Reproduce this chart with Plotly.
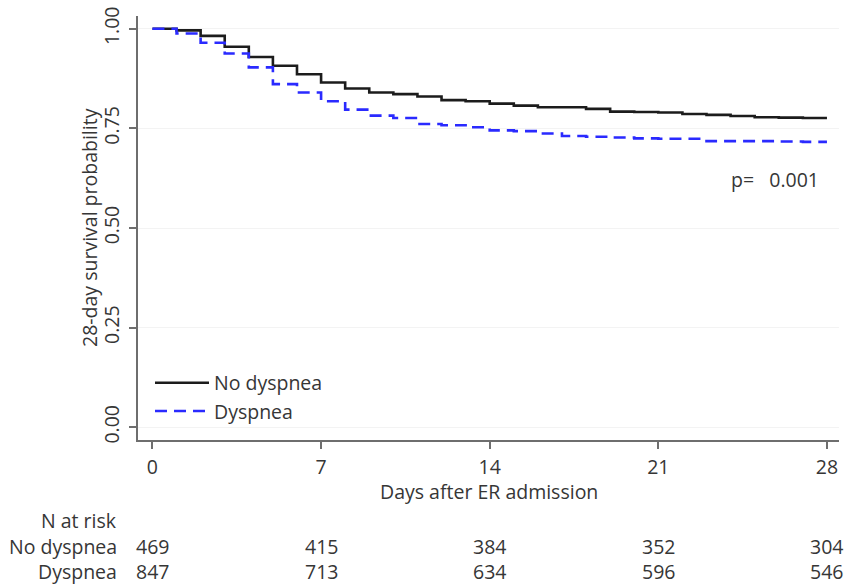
import plotly.graph_objects as go

days = list(range(0, 29))
no_dyspnea = [1.000, 0.996, 0.982, 0.955, 0.929, 0.907, 0.886, 0.865, 0.850, 0.840,
              0.836, 0.830, 0.821, 0.818, 0.812, 0.807, 0.803, 0.803, 0.799, 0.792,
              0.791, 0.790, 0.786, 0.784, 0.781, 0.778, 0.777, 0.776, 0.776]
dyspnea = [1.000, 0.988, 0.965, 0.938, 0.903, 0.861, 0.840, 0.818, 0.797, 0.782,
           0.776, 0.761, 0.758, 0.753, 0.745, 0.743, 0.737, 0.731, 0.729, 0.727,
           0.725, 0.724, 0.724, 0.718, 0.718, 0.718, 0.717, 0.716, 0.716]

risk_days = [0, 7, 14, 21, 28]
risk_no_dyspnea = [469, 415, 384, 352, 304]
risk_dyspnea = [847, 713, 634, 596, 546]
y_ticks = [0, 0.25, 0.5, 0.75, 1.0]
x_ticks = [0, 7, 14, 21, 28]

FONT = "Open Sans"
FS = 19.5
TXT = "#363636"
AX = "#6e6e6e"

fig = go.Figure()
fig.add_trace(go.Scatter(x=days, y=no_dyspnea, mode="lines", line_shape="hv",
                         name="No dyspnea", legendgroup="a",
                         line=dict(color="#1c1c1c", width=2.6)))
fig.add_trace(go.Scatter(x=days, y=dyspnea, mode="lines", line_shape="hv",
                         name="Dyspnea", legendgroup="b",
                         line=dict(color="#2a2aff", width=2.6, dash="12px,7px")))

ann = []
ann.append(dict(text="p=   0.001", xref="paper", yref="paper", x=0.974, y=0.6136,
                xanchor="right", yanchor="middle", showarrow=False,
                font=dict(size=FS, color=TXT, family=FONT)))
ann.append(dict(text="Days after ER admission", xref="paper", yref="paper", x=0.5,
                y=(440 - 492) / 427, xanchor="center", yanchor="middle", showarrow=False,
                font=dict(size=FS, color=TXT, family=FONT)))
ann.append(dict(text="28-day survival probability", xref="paper", yref="paper",
                x=(89 - 138) / 701, y=0.5, xanchor="center", yanchor="middle",
                textangle=-90, showarrow=False,
                font=dict(size=FS, color=TXT, family=FONT)))
labx = (119 - 138) / 701
for txt, py in [("N at risk", 521), ("No dyspnea", 547), ("Dyspnea", 572)]:
    ann.append(dict(text=txt, xref="paper", yref="paper", x=labx, y=(440 - py) / 427,
                    xanchor="right", yanchor="middle", showarrow=False,
                    font=dict(size=FS, color=TXT, family=FONT)))
for d, a, b in zip(risk_days, risk_no_dyspnea, risk_dyspnea):
    ann.append(dict(text=str(a), xref="x", yref="paper", x=d, y=(440 - 547) / 427,
                    xanchor="center", yanchor="middle", showarrow=False,
                    font=dict(size=FS, color=TXT, family=FONT)))
    ann.append(dict(text=str(b), xref="x", yref="paper", x=d, y=(440 - 572) / 427,
                    xanchor="center", yanchor="middle", showarrow=False,
                    font=dict(size=FS, color=TXT, family=FONT)))

fig.update_layout(
    width=846, height=588,
    margin=dict(l=138, r=7, t=13, b=148),
    paper_bgcolor="white", plot_bgcolor="white",
    font=dict(family=FONT, size=FS, color=TXT),
    annotations=ann,
    showlegend=True,
    legend=dict(x=(150 - 138) / 701, y=(440 - 363) / 427, xanchor="left", yanchor="top",
                bgcolor="rgba(0,0,0,0)", itemwidth=54, traceorder="grouped",
                tracegroupgap=0, font=dict(size=FS, color=TXT, family=FONT)),
    xaxis=dict(range=[-0.6, 28.5], tickvals=x_ticks, showgrid=False, zeroline=False,
               showline=True, linecolor=AX, linewidth=1.6, ticks="outside",
               ticklen=7, tickcolor=AX, tickwidth=1.6, ticklabelstandoff=2,
               tickfont=dict(size=FS, color=TXT, family=FONT)),
    yaxis=dict(range=[-0.032, 1.032], tickvals=y_ticks, tickformat=".2f",
               tickangle=-90, showgrid=True, gridcolor="#f3f3f3", gridwidth=1,
               zeroline=False, showline=True, linecolor=AX, linewidth=1.6,
               ticks="outside", ticklen=7, tickcolor=AX, tickwidth=1.6,
               ticklabelstandoff=2,
               tickfont=dict(size=FS, color=TXT, family=FONT)),
)

fig.write_html("out.html", config={"displayModeBar": False},
               post_script="document.body.style.margin='0';")
